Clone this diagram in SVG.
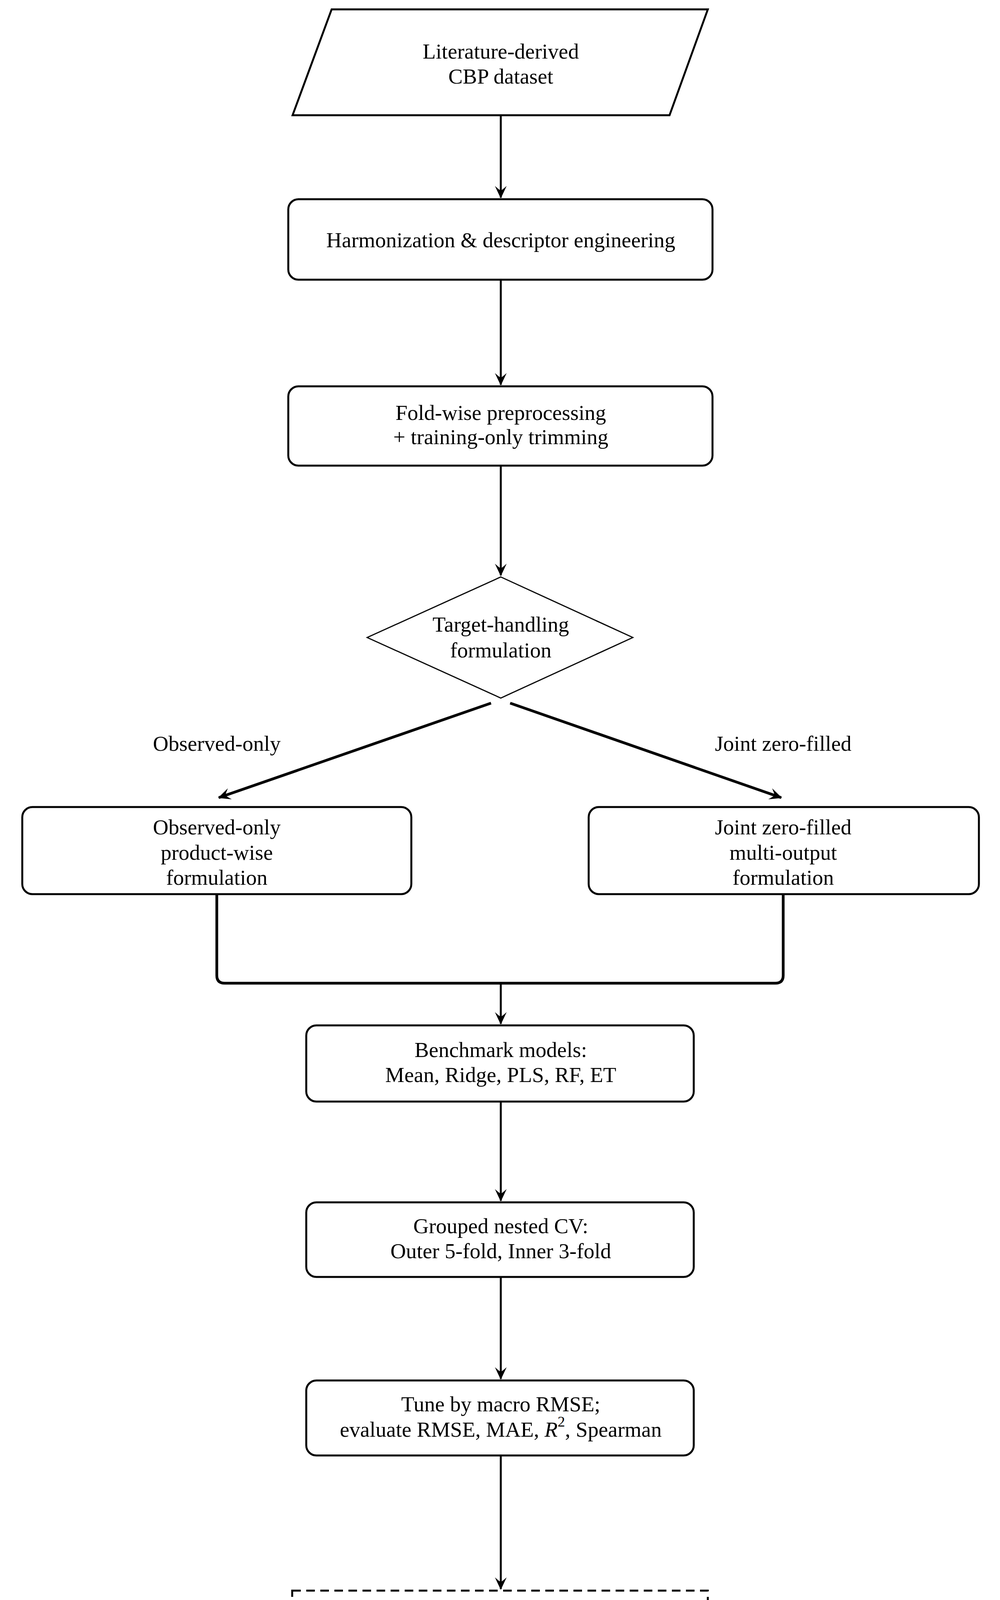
<svg xmlns="http://www.w3.org/2000/svg" width="2560" height="4901" viewBox="0 0 2560 4901">
<style>
text{font-family:"Liberation Serif","DejaVu Serif",serif;font-size:55px;fill:#000;text-anchor:middle;dominant-baseline:central}
.n{fill:#fff;stroke:#000;stroke-width:5}
.d{fill:#fff;stroke:#000;stroke-width:5;stroke-dasharray:22 14}
.c{fill:none;stroke:#000;stroke-width:5}
.t{fill:none;stroke:#000;stroke-width:7;stroke-linejoin:round}
</style>
<defs>
<marker id="a" markerUnits="userSpaceOnUse" markerWidth="80" markerHeight="80" refX="0" refY="0" orient="auto" style="overflow:visible">
<path d="M2,0 L-30,-15 Q-20,-4 -18,0 Q-20,4 -30,15 Z" fill="#000"/>
</marker>
</defs>
<rect width="2560" height="4901" fill="#fff"/>
<g id="connectors">
<line class="c" x1="1282" y1="295" x2="1282" y2="506" marker-end="url(#a)"/>
<line class="c" x1="1282" y1="716" x2="1282" y2="985" marker-end="url(#a)"/>
<line class="c" x1="1282" y1="1192" x2="1282" y2="1473" marker-end="url(#a)"/>
<line class="t" x1="1257" y1="1800" x2="560" y2="2042" marker-end="url(#a)"/>
<line class="t" x1="1306" y1="1800" x2="2000" y2="2042" marker-end="url(#a)"/>
<text x="555" y="1903">Observed-only</text>
<text x="2005" y="1903">Joint zero-filled</text>
<path class="t" d="M555,2289 V2497 Q555,2517 575,2517 H1985 Q2005,2517 2005,2497 V2289"/>
<line class="c" x1="1282" y1="2517" x2="1282" y2="2621" marker-end="url(#a)"/>
<line class="c" x1="1282" y1="2820" x2="1282" y2="3074" marker-end="url(#a)"/>
<line class="c" x1="1282" y1="3269" x2="1282" y2="3530" marker-end="url(#a)"/>
<line class="c" x1="1282" y1="3726" x2="1282" y2="4068" marker-end="url(#a)"/>
<line class="t" x1="1151" y1="4276" x2="714" y2="4640" marker-end="url(#a)"/>
<line class="t" x1="1412" y1="4276" x2="1852" y2="4640" marker-end="url(#a)"/>
</g>
<g id="n1"><polygon class="n" points="849,24 1812,24 1714,295 749,295"/>
<text x="1282" y="131">Literature-derived</text><text x="1282" y="195">CBP dataset</text></g>
<g id="n2"><rect class="n" x="738" y="510" width="1086" height="206" rx="26"/>
<text x="1282" y="614">Harmonization &amp; descriptor engineering</text></g>
<g id="n3"><rect class="n" x="738" y="989" width="1086" height="203" rx="26"/>
<text x="1282" y="1056">Fold-wise preprocessing</text><text x="1282" y="1118">+ training-only trimming</text></g>
<g id="n4"><polygon class="n" points="1282,1477 1620,1632 1282,1787 940,1632" style="stroke-width:3"/>
<text x="1282" y="1598">Target-handling</text><text x="1282" y="1664">formulation</text></g>
<g id="n5"><rect class="n" x="57" y="2066" width="996" height="223" rx="26"/>
<text x="555" y="2117">Observed-only</text><text x="555" y="2182">product-wise</text><text x="555" y="2246">formulation</text></g>
<g id="n6"><rect class="n" x="1507" y="2066" width="999" height="223" rx="26"/>
<text x="2005" y="2117">Joint zero-filled</text><text x="2005" y="2182">multi-output</text><text x="2005" y="2246">formulation</text></g>
<g id="n7"><rect class="n" x="784" y="2625" width="992" height="195" rx="26"/>
<text x="1282" y="2687">Benchmark models:</text><text x="1282" y="2751">Mean, Ridge, PLS, RF, ET</text></g>
<g id="n8"><rect class="n" x="784" y="3078" width="992" height="191" rx="26"/>
<text x="1282" y="3138">Grouped nested CV:</text><text x="1282" y="3202">Outer 5-fold, Inner 3-fold</text></g>
<g id="n9"><rect class="n" x="784" y="3534" width="992" height="192" rx="26"/>
<text x="1282" y="3594">Tune by macro RMSE;</text><text x="1282" y="3659">evaluate RMSE, MAE, <tspan font-style="italic">R</tspan><tspan dy="-20" font-size="38">2</tspan><tspan dy="20">, Spearman</tspan></text></g>
<g id="n10"><rect class="d" x="748" y="4072" width="1064" height="204"/>
<text x="1282" y="4148">Compare formulations</text><text x="1282" y="4210">and model classes</text></g>
<g id="n11"><rect class="d" x="24" y="4647" width="1062" height="234"/>
<text x="555" y="4697">Preferred result:</text><text x="555" y="4762">Observed-only</text><text x="555" y="4825">product-wise + RF</text></g>
<g id="n12"><rect class="d" x="1474" y="4647" width="1065" height="234"/>
<text x="2005" y="4697">Product-specific performance</text><text x="2005" y="4762">and association-based</text><text x="2005" y="4825">interpretation</text></g>
</svg>
